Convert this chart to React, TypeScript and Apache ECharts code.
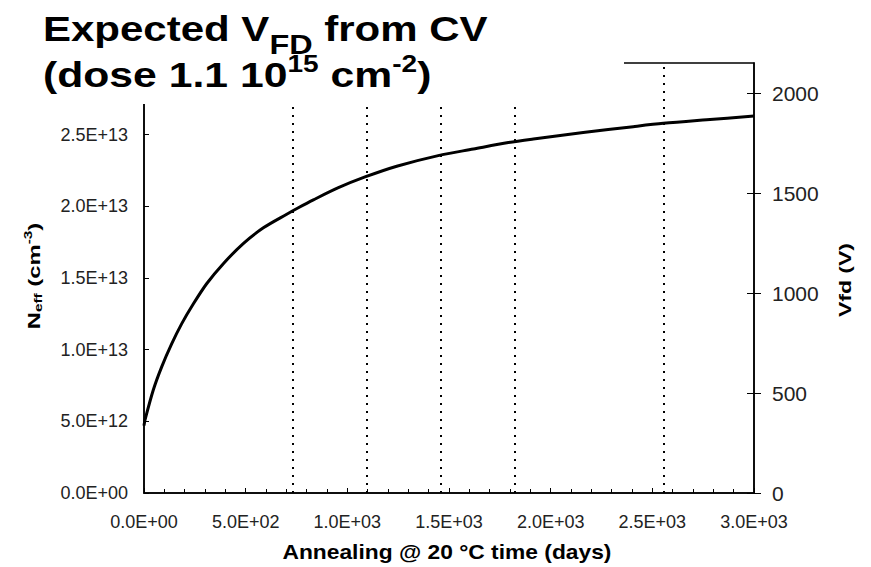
import React, { useEffect, useRef } from 'react';
import * as echarts from 'echarts';

// ---- data ----
const timeDays = [0, 5, 46, 87, 136, 185, 243, 308, 390, 488, 587, 702, 759, 833, 956, 1087, 1243, 1447, 1620, 1792, 1915, 2160, 2406, 2554, 2767, 3000];
const neffValues = [4.7e12, 5.1e12, 7.2e12, 8.8e12, 10.4e12, 11.8e12, 13.2e12, 14.6e12, 16.0e12, 17.4e12, 18.5e12, 19.45e12, 19.9e12, 20.45e12, 21.3e12, 22.05e12, 22.8e12, 23.54e12, 24.0e12, 24.45e12, 24.7e12, 25.15e12, 25.56e12, 25.79e12, 26.04e12, 26.3e12];
const markerDays = [730, 1095, 1460, 1825, 2555];
const neffTicks = [0, 5e12, 1e13, 1.5e13, 2e13, 2.5e13];
const vfdTicks = [0, 500, 1000, 1500, 2000];

const FONT = "'Liberation Sans', Arial, Helvetica, sans-serif";

function sci(v: number): string {
  const [m, e] = v.toExponential(1).split('e');
  const sign = e[0] === '-' ? '-' : '+';
  const digits = e.replace(/^[+-]/, '').padStart(2, '0');
  return `${m}E${sign}${digits}`;
}

let measureCtx: CanvasRenderingContext2D | null = null;
function textW(t: string, size: number): number {
  if (!measureCtx) measureCtx = document.createElement('canvas').getContext('2d');
  measureCtx!.font = `bold ${size}px ${FONT}`;
  return measureCtx!.measureText(t).width;
}

type Tok = { t: string; s: number; dy: number };

function lineEls(tokens: Tok[], z = 101) {
  let x = 0;
  const els: any[] = [];
  for (const k of tokens) {
    els.push({
      type: 'text',
      z,
      x,
      y: k.dy - 0.35 * k.s,
      style: {
        text: k.t,
        font: `bold ${k.s}px ${FONT}`,
        fill: '#000',
        textAlign: 'left',
        verticalAlign: 'middle',
        textVerticalAlign: 'middle',
      },
    });
    x += textW(k.t, k.s);
  }
  return { els, width: x };
}

export default function App() {
  const ref = useRef<HTMLDivElement>(null);

  useEffect(() => {
    const chart = echarts.init(ref.current!, null, { renderer: 'svg' });

    const title1 = lineEls([
      { t: 'Expected V', s: 35, dy: 0 },
      { t: 'FD', s: 27, dy: 13 },
      { t: ' from CV', s: 35, dy: 0 },
    ]);
    const title2 = lineEls([
      { t: '(dose 1.1 10', s: 35, dy: 0 },
      { t: '15', s: 23, dy: -15 },
      { t: ' cm', s: 35, dy: 0 },
      { t: '-2', s: 23, dy: -15 },
      { t: ')', s: 35, dy: 0 },
    ]);
    const neffName = lineEls([
      { t: 'N', s: 17, dy: 0 },
      { t: 'eff', s: 11, dy: 2 },
      { t: ' (cm', s: 17, dy: 0 },
      { t: '-3', s: 11, dy: -8 },
      { t: ')', s: 17, dy: 0 },
    ]);
    const vfdName = lineEls([{ t: 'Vfd (V)', s: 17, dy: 0 }]);
    const xName = lineEls([{ t: 'Annealing @ 20 °C time (days)', s: 20, dy: 0 }]);

    const neffScale = 1.4;
    const vfdScale = 1.35;
    const xScale = 1.14;

    const option: any = {
      animation: false,
      backgroundColor: '#fff',
      grid: { left: 144, right: 117, top: 63, bottom: 74, show: true, borderColor: '#000', borderWidth: 1.5, backgroundColor: 'transparent' },
      xAxis: {
        type: 'value',
        min: 0,
        max: 3000,
        interval: 500,
        axisLine: { lineStyle: { color: '#000', width: 1.5 } },
        axisTick: { inside: true, length: 5, lineStyle: { color: '#000', width: 1 } },
        minorTick: { show: true, splitNumber: 5, length: 4, lineStyle: { color: '#000', width: 1 } },
        splitLine: { show: false },
        axisLabel: { formatter: (v: number) => sci(v), fontSize: 18, color: '#222', margin: 20, fontFamily: FONT },
      },
      yAxis: [
        {
          type: 'value',
          min: 0,
          max: 3e13,
          interval: 5e12,
          position: 'left',
          axisLine: { show: true, lineStyle: { color: '#000', width: 1.5 } },
          axisTick: { show: true, inside: true, length: 5, customValues: neffTicks, lineStyle: { color: '#000' } },
          splitLine: { show: false },
          axisLabel: {
            customValues: neffTicks,
            formatter: (v: number) => (v > 2.6e13 ? '' : sci(v)),
            fontSize: 18,
            color: '#222',
            margin: 16,
            fontFamily: FONT,
          },
        },
        {
          type: 'value',
          min: 0,
          max: 2150,
          position: 'right',
          axisLine: { show: true, lineStyle: { color: '#000', width: 1.5 } },
          axisTick: { show: true, inside: false, length: 7, customValues: vfdTicks, lineStyle: { color: '#000' } },
          splitLine: { show: false },
          axisLabel: {
            customValues: vfdTicks,
            formatter: (v: number) => (v % 500 === 0 ? String(v) : ''),
            fontSize: 21,
            color: '#222',
            margin: 18,
            fontFamily: FONT,
          },
        },
        {
          type: 'value',
          min: 0,
          max: 2150,
          position: 'right',
          axisLine: { show: false },
          axisTick: { show: true, inside: true, length: 7, customValues: vfdTicks, lineStyle: { color: '#000' } },
          splitLine: { show: false },
          axisLabel: { show: false },
        },
      ],
      series: [
        {
          type: 'line',
          yAxisIndex: 0,
          data: timeDays.map((t, i) => [t, neffValues[i]]),
          showSymbol: false,
          smooth: 0.3,
          lineStyle: { color: '#000', width: 3 },
          z: 3,
          markLine: {
            silent: true,
            symbol: ['none', 'none'],
            label: { show: false },
            lineStyle: { type: [2, 6], color: '#000', width: 2 },
            data: markerDays.map((d) => ({ xAxis: d })),
          },
        },
      ],
      graphic: [
        { type: 'rect', z: 100, shape: { x: 0, y: 0, width: 624, height: 104 }, style: { fill: '#fff' } },
        { type: 'group', z: 101, x: 43, y: 41, scaleX: 1.2, children: title1.els },
        { type: 'group', z: 101, x: 43, y: 87, scaleX: 1.22, children: title2.els },
        {
          type: 'group', z: 101, x: 40, y: 276 + (neffName.width * neffScale) / 2,
          rotation: Math.PI / 2, scaleX: neffScale, children: neffName.els,
        },
        {
          type: 'group', z: 101, x: 851, y: 280 + (vfdName.width * vfdScale) / 2,
          rotation: Math.PI / 2, scaleX: vfdScale, children: vfdName.els,
        },
        {
          type: 'group', z: 101, x: 447 - (xName.width * xScale) / 2, y: 559,
          scaleX: xScale, children: xName.els,
        },
      ],
    };

    chart.setOption(option);
    return () => chart.dispose();
  }, []);

  return <div ref={ref} style={{ position: 'fixed', left: 0, top: 0, width: 871, height: 567 }} />;
}
